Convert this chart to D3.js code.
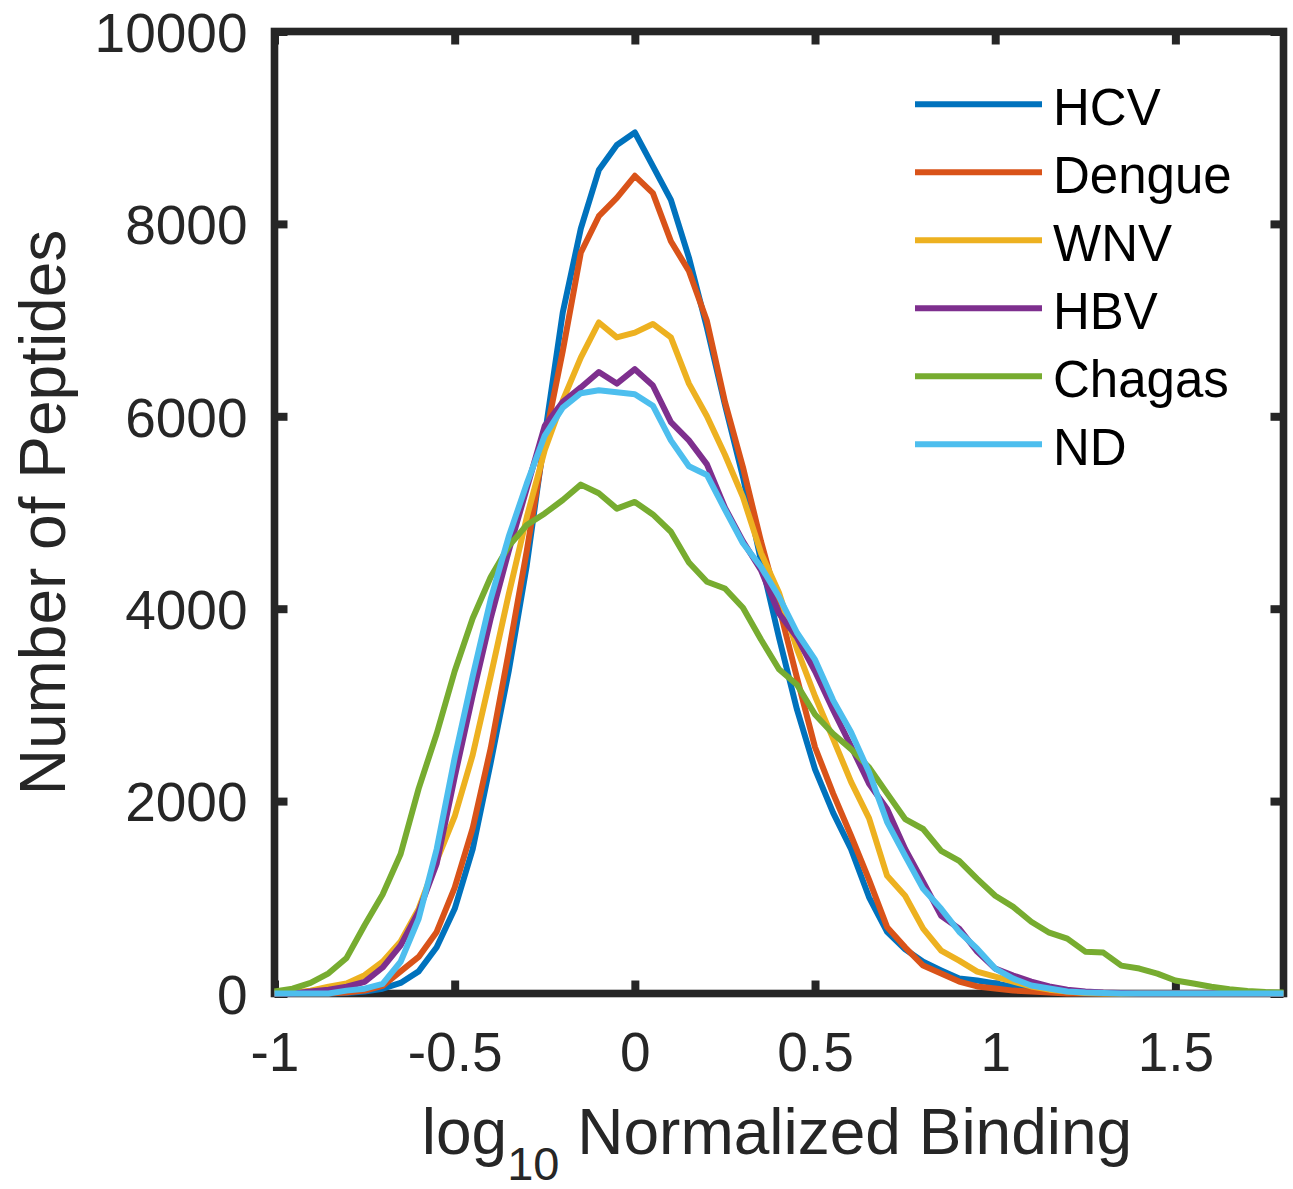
<!DOCTYPE html>
<html>
<head>
<meta charset="utf-8">
<script src="https://cdn.jsdelivr.net/npm/d3@7"></script>
<style>
  html, body { margin: 0; padding: 0; background: #fff; }
  svg { display: block; font-family: "Liberation Sans", Arial, Helvetica, sans-serif; }
</style>
</head>
<body>
<svg id="chart" width="1293" height="1189"></svg>
<script>
// ---- data ----
const binCenters = [-1, -0.95, -0.9, -0.85, -0.8, -0.75, -0.7, -0.65, -0.6, -0.55,
  -0.5, -0.45, -0.4, -0.35, -0.3, -0.25, -0.2, -0.15, -0.1, -0.05,
  0, 0.05, 0.1, 0.15, 0.2, 0.25, 0.3, 0.35, 0.4, 0.45,
  0.5, 0.55, 0.6, 0.65, 0.7, 0.75, 0.8, 0.85, 0.9, 0.95,
  1, 1.05, 1.1, 1.15, 1.2, 1.25, 1.3, 1.35, 1.4, 1.45,
  1.5, 1.55, 1.6, 1.65, 1.7, 1.75, 1.8];

const seriesNames = ["HCV", "Dengue", "WNV", "HBV", "Chagas", "ND"];
const seriesColors = ["#0072BD", "#D95319", "#EDB120", "#7E2F8E", "#77AC30", "#4DBEEE"];

const hcv = [0,0,0,0,5,20,50,110,230,480,880,1500,2400,3350,4450,5800,7080,7950,8560,8820,
  8950,8600,8250,7650,6920,6120,5370,4500,3700,2950,2330,1880,1500,1000,640,460,330,240,155,135,
  105,70,30,15,5,0,0,0,0,0,0,0,0,0,0,0,0];
const dengue = [0,0,0,0,10,30,80,230,380,640,1100,1720,2550,3550,4600,5750,6680,7700,8080,8270,
  8500,8320,7820,7510,6990,6150,5470,4700,4020,3280,2560,2080,1640,1180,690,480,290,207,124,73,
  52,30,20,10,0,0,0,0,0,0,0,0,0,0,0,0,0];
const wnv = [0,10,30,70,104,190,330,540,880,1380,1840,2480,3300,4150,4950,5650,6165,6610,6975,6820,
  6870,6960,6820,6340,6000,5600,5160,4580,4166,3580,3090,2650,2200,1820,1223,1016,674,446,342,228,
  176,124,73,40,20,5,0,0,0,0,0,0,0,0,0,0,0];
const hbv = [0,0,20,40,70,120,270,500,850,1350,2250,3100,3900,4600,5250,5900,6150,6300,6460,6340,
  6490,6320,5940,5750,5500,5050,4700,4400,3950,3700,3350,2950,2570,2180,1917,1503,1160,808,674,435,
  259,187,124,73,40,20,10,5,0,0,0,0,0,0,0,0,0];
const chagas = [20,50,110,210,370,710,1030,1450,2130,2700,3350,3900,4330,4650,4870,4990,5130,5290,5200,5040,
  5110,4980,4800,4480,4280,4210,4010,3680,3370,3210,2900,2700,2540,2350,2080,1813,1710,1482,1378,1192,
  1016,901,746,632,570,435,425,290,259,207,135,104,70,45,25,15,10];
const nd = [0,0,0,0,30,50,100,330,777,1500,2450,3300,4100,4750,5300,5800,6090,6240,6270,6250,
  6230,6110,5750,5480,5390,5030,4680,4435,4124,3750,3470,3050,2715,2300,1782,1430,1088,880,642,466,
  259,155,83,52,20,10,5,0,0,0,0,0,0,0,0,0,0];

const seriesValues = [hcv, dengue, wnv, hbv, chagas, nd];

const xTicks = [-1, -0.5, 0, 0.5, 1, 1.5];
const xTickLabels = ["-1", "-0.5", "0", "0.5", "1", "1.5"];
const yTicks = [0, 2000, 4000, 6000, 8000, 10000];
const yTickLabels = ["0", "2000", "4000", "6000", "8000", "10000"];

// ---- layout ----
const svg = d3.select("#chart");
const pL = 274.5, pR = 1283.5, pT = 31.5, pB = 993.5;
const ink = "#262626";

const x = d3.scaleLinear().domain([-1, 1.8]).range([pL, pR]);
const y = d3.scaleLinear().domain([0, 10000]).range([pB, pT]);

// axes (ticks inward on all four sides)
const tickLen = 13;
const gx = svg.append("g").attr("transform", `translate(0,${pB})`)
  .call(d3.axisBottom(x).tickValues(xTicks).tickFormat((d, i) => xTickLabels[i])
    .tickSizeInner(-tickLen).tickSizeOuter(0).tickPadding(38));
const gxt = svg.append("g").attr("transform", `translate(0,${pT})`)
  .call(d3.axisTop(x).tickValues(xTicks).tickFormat("").tickSizeInner(-tickLen).tickSizeOuter(0));
const gy = svg.append("g").attr("transform", `translate(${pL},0)`)
  .call(d3.axisLeft(y).tickValues(yTicks).tickFormat((d, i) => yTickLabels[i])
    .tickSizeInner(-tickLen).tickSizeOuter(0).tickPadding(27));
const gyr = svg.append("g").attr("transform", `translate(${pR},0)`)
  .call(d3.axisRight(y).tickValues(yTicks).tickFormat("").tickSizeInner(-tickLen).tickSizeOuter(0));

[gx, gxt, gy, gyr].forEach(g => {
  g.select(".domain").remove();
  g.selectAll(".tick line").attr("stroke", ink).attr("stroke-width", 8);
  g.selectAll(".tick text").attr("fill", ink).style("font-size", "55px")
    .style("font-family", '"Liberation Sans", Arial, sans-serif');
});
gy.selectAll(".tick text").attr("dy", "0.36em");

// frame
svg.append("rect")
  .attr("x", pL).attr("y", pT)
  .attr("width", pR - pL).attr("height", pB - pT)
  .attr("fill", "none").attr("stroke", ink).attr("stroke-width", 7.6);

// lines
const line = d3.line().x((d, i) => x(binCenters[i])).y(d => y(d));
seriesValues.forEach((vals, k) => {
  svg.append("path")
    .datum(vals)
    .attr("d", line)
    .attr("fill", "none")
    .attr("stroke", seriesColors[k])
    .attr("stroke-width", 6)
    .attr("stroke-linejoin", "round");
});

// legend
const legX0 = 915, legX1 = 1042, legY0 = 104.3, legDY = 68;
const leg = svg.append("g");
seriesNames.forEach((name, k) => {
  const yy = legY0 + k * legDY;
  leg.append("line").attr("x1", legX0).attr("x2", legX1).attr("y1", yy).attr("y2", yy)
    .attr("stroke", seriesColors[k]).attr("stroke-width", 6);
  leg.append("text").attr("x", 1053).attr("y", yy + 20.5)
    .attr("fill", "#000").style("font-size", "51px").text(name);
});

// axis titles
const xt = svg.append("text")
  .attr("x", (pL + pR) / 2 - 2).attr("y", 1154)
  .attr("text-anchor", "middle").attr("fill", ink).style("font-size", "64px");
xt.append("tspan").text("log");
xt.append("tspan").attr("dy", 26).style("font-size", "47px").text("10");
xt.append("tspan").attr("dy", -26).text(" Normalized Binding");

svg.append("text")
  .attr("transform", `translate(65,${(pT + pB) / 2}) rotate(-90)`)
  .attr("text-anchor", "middle").attr("fill", ink).style("font-size", "64px")
  .text("Number of Peptides");
</script>
</body>
</html>
